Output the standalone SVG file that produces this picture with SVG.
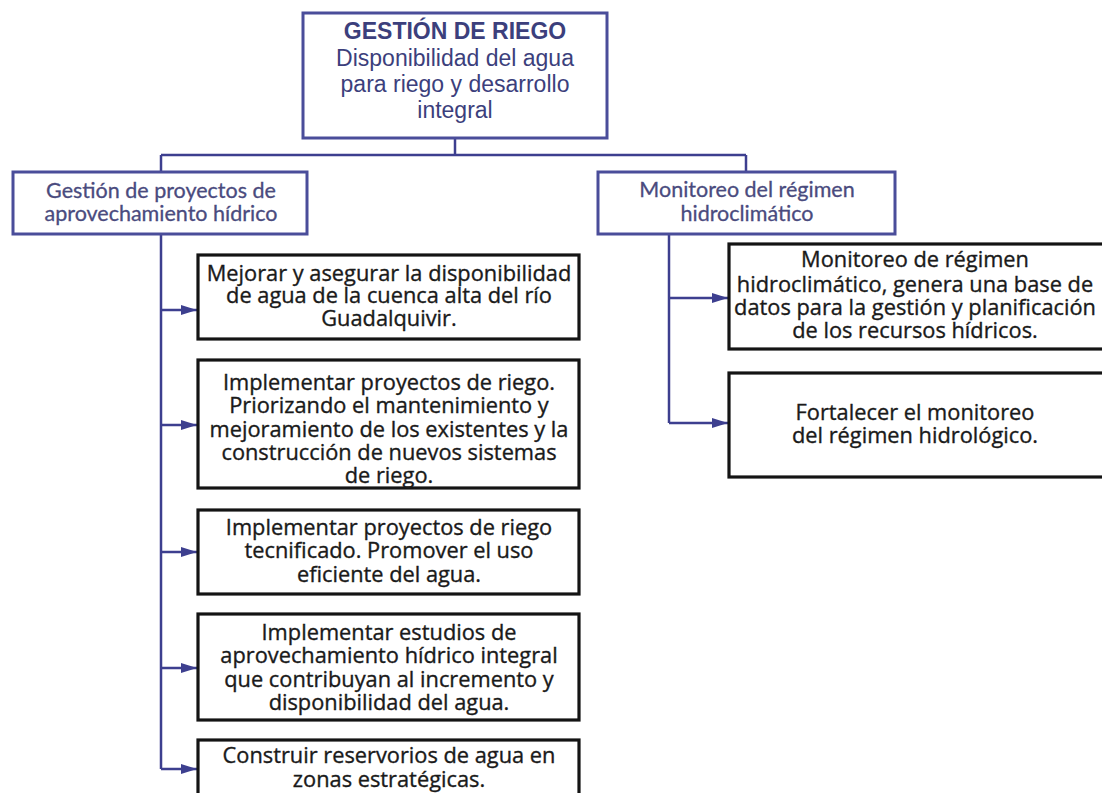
<svg xmlns="http://www.w3.org/2000/svg" width="1102" height="793" viewBox="0 0 1102 793">
  <style>
    .root-box { fill: #ffffff; stroke: #4a4d9a; stroke-width: 3; }
    .head-box { fill: #ffffff; stroke: #4a4d9a; stroke-width: 3; }
    .leaf-box { fill: #ffffff; stroke: #141414; stroke-width: 3.2; }
    .root-title { font-family: "Liberation Sans", Arial, sans-serif; font-size: 23px; font-weight: bold; fill: #3c3f7c; text-anchor: middle; }
    .root-text { font-family: "Liberation Sans", Arial, sans-serif; font-size: 23px; fill: #3c3f7c; text-anchor: middle; }
    .head-text { font-family: Lato, "Open Sans", sans-serif; font-size: 21.5px; fill: #4a4b7e; stroke: #4a4b7e; stroke-width: 0.3; text-anchor: middle; }
    .leaf-text { font-family: "Open Sans", "Noto Sans", sans-serif; font-size: 21.8px; fill: #1a1a1a; stroke: #1a1a1a; stroke-width: 0.35; text-anchor: middle; }
    .link { fill: none; stroke: #3d3f8f; stroke-width: 2.5; }
  </style>
  <defs>
    <marker id="arrow" markerWidth="16" markerHeight="12" refX="16" refY="6" orient="auto" markerUnits="userSpaceOnUse">
      <path d="M0,1 L16,6 L0,11 Z" fill="#3d3f8f"/>
    </marker>
  </defs>

  <rect width="1102" height="793" fill="#ffffff"/>

  <!-- connectors -->
  <g id="connectors">
    <path class="link" d="M455,138 V155"/>
    <path class="link" d="M161,155 H746"/>
    <path class="link" d="M161,155 V172"/>
    <path class="link" d="M746,155 V172"/>
    <path class="link" d="M161,234 V769"/>
    <path class="link" d="M161,310 H197" marker-end="url(#arrow)"/>
    <path class="link" d="M161,425 H197" marker-end="url(#arrow)"/>
    <path class="link" d="M161,552 H197" marker-end="url(#arrow)"/>
    <path class="link" d="M161,668 H197" marker-end="url(#arrow)"/>
    <path class="link" d="M161,769 H197" marker-end="url(#arrow)"/>
    <path class="link" d="M669,234 V423"/>
    <path class="link" d="M669,298 H728" marker-end="url(#arrow)"/>
    <path class="link" d="M669,423 H728" marker-end="url(#arrow)"/>
  </g>

  <!-- root -->
  <g id="root">
    <rect class="root-box" x="303" y="13" width="304" height="125"/>
    <text class="root-title" x="455" y="39">GESTIÓN DE RIEGO</text>
    <text class="root-text" x="455" y="66">Disponibilidad del agua</text>
    <text class="root-text" x="455" y="92">para riego y desarrollo</text>
    <text class="root-text" x="455" y="118">integral</text>
  </g>

  <!-- branch headers -->
  <g id="head-proyectos">
    <rect class="head-box" x="13" y="172" width="294" height="62"/>
    <text class="head-text" x="161" y="198">Gestión de proyectos de</text>
    <text class="head-text" x="161" y="221">aprovechamiento hídrico</text>
  </g>
  <g id="head-monitoreo">
    <rect class="head-box" x="598" y="172" width="297" height="62"/>
    <text class="head-text" x="747" y="197">Monitoreo del régimen</text>
    <text class="head-text" x="747" y="221">hidroclimático</text>
  </g>

  <!-- left column items -->
  <g id="item-disponibilidad">
    <rect class="leaf-box" x="198" y="255" width="381" height="84"/>
    <text class="leaf-text" x="389" y="281">Mejorar y asegurar la disponibilidad</text>
    <text class="leaf-text" x="389" y="303">de agua de la cuenca alta del río</text>
    <text class="leaf-text" x="389" y="326">Guadalquivir.</text>
  </g>
  <g id="item-riego">
    <rect class="leaf-box" x="198" y="360" width="381" height="128"/>
    <text class="leaf-text" x="389" y="390">Implementar proyectos de riego.</text>
    <text class="leaf-text" x="389" y="413">Priorizando el mantenimiento y</text>
    <text class="leaf-text" x="389" y="437">mejoramiento de los existentes y la</text>
    <text class="leaf-text" x="389" y="460">construcción de nuevos sistemas</text>
    <text class="leaf-text" x="389" y="483">de riego.</text>
  </g>
  <g id="item-tecnificado">
    <rect class="leaf-box" x="198" y="510" width="381" height="84"/>
    <text class="leaf-text" x="389" y="535">Implementar proyectos de riego</text>
    <text class="leaf-text" x="389" y="558">tecnificado. Promover el uso</text>
    <text class="leaf-text" x="389" y="582">eficiente del agua.</text>
  </g>
  <g id="item-estudios">
    <rect class="leaf-box" x="198" y="614" width="381" height="106"/>
    <text class="leaf-text" x="389" y="640">Implementar estudios de</text>
    <text class="leaf-text" x="389" y="663">aprovechamiento hídrico integral</text>
    <text class="leaf-text" x="389" y="687">que contribuyan al incremento y</text>
    <text class="leaf-text" x="389" y="710">disponibilidad del agua.</text>
  </g>
  <g id="item-reservorios">
    <rect class="leaf-box" x="198" y="740" width="381" height="80"/>
    <text class="leaf-text" x="389" y="763">Construir reservorios de agua en</text>
    <text class="leaf-text" x="389" y="787">zonas estratégicas.</text>
  </g>

  <!-- right column items -->
  <g id="item-base-datos">
    <rect class="leaf-box" x="729" y="244" width="380" height="105"/>
    <text class="leaf-text" x="915" y="267">Monitoreo de régimen</text>
    <text class="leaf-text" x="915" y="292">hidroclimático, genera una base de</text>
    <text class="leaf-text" x="915" y="315">datos para la gestión y planificación</text>
    <text class="leaf-text" x="915" y="338">de los recursos hídricos.</text>
  </g>
  <g id="item-hidrologico">
    <rect class="leaf-box" x="729" y="373" width="380" height="104"/>
    <text class="leaf-text" x="915" y="420">Fortalecer el monitoreo</text>
    <text class="leaf-text" x="915" y="443">del régimen hidrológico.</text>
  </g>
</svg>
